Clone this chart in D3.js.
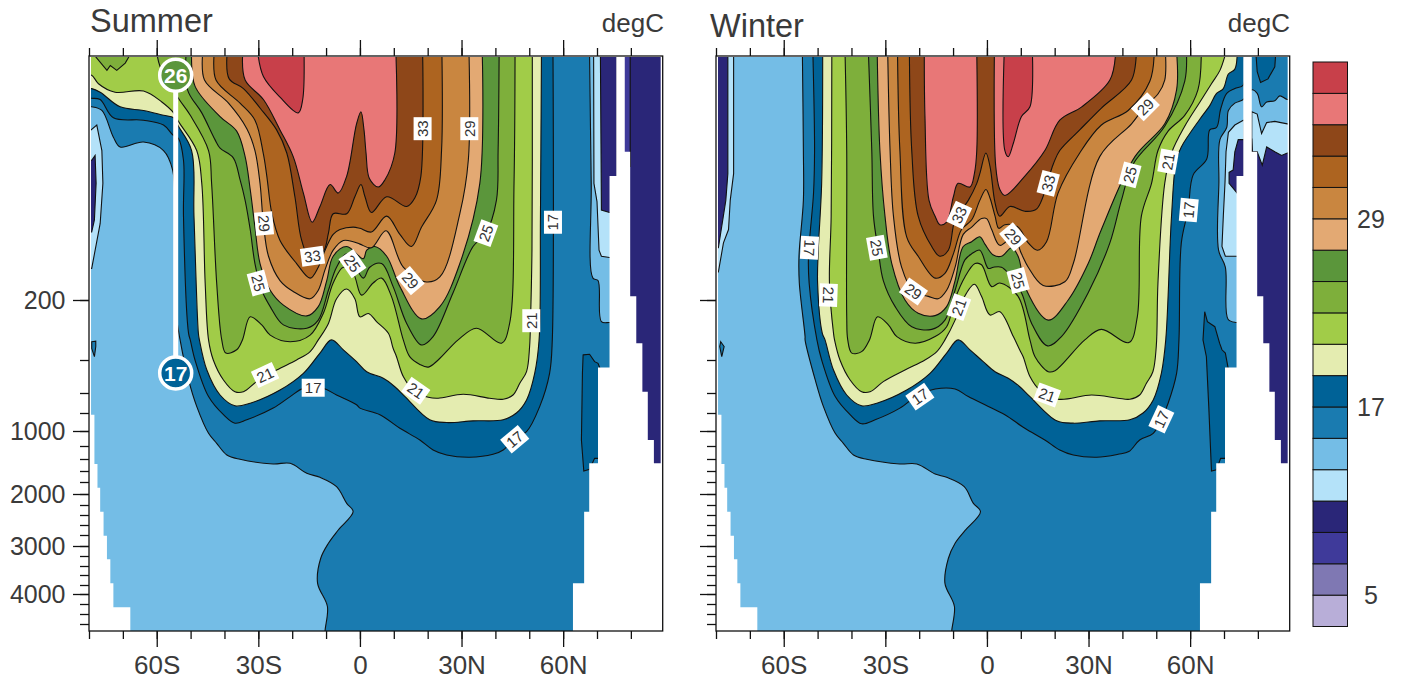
<!doctype html>
<html>
  <head>
    <title>Summer and winter temperature sections</title>
    <script src="https://d3js.org/d3.v7.min.js"></script>
    <style>
    body { margin: 0; background: white; }
    text { font-family: "Liberation Sans", sans-serif; fill: #3a3a3a; }
    .axis path, .axis line { stroke: #111; stroke-width: 1.3px; }
    .axis text { font-size: 25px; font-family: "Liberation Sans", sans-serif; fill: #3a3a3a; }
    .xlabels text { font-size: 26px; }
    .contour { stroke: #111; stroke-width: 1.1px; }
    .clabel text { font-size: 15px; fill: #333; }
    </style>
  </head>
  <body>
    <script>
      // contour levels and the colour of each band, coldest first
      var levels = [5,7,9,11,13,15,17,19,21,23,25,27,29,31,33,35,37];
      var bandColors = ["#b8aed8","#7f78b3","#3f3a9a","#2a2678","#b4e2f9","#74bde6","#1a7bb0","#006297",
                        "#e4ecb0","#a1cc48","#7eaf3b","#5b963b","#e3a973","#c98640","#ad6420","#8e4719",
                        "#e87777","#c8404a"];
      var legendTicks = [5,17,29];

      var latMajor = [-60,-30,0,30,60];
      var latLabels = ["60S","30S","0","30N","60N"];
      var depthMajor = [200,1000,2000,3000,4000];
      var depthStops = [0,200,400,600,800,1000,1200,1400,1600,1800,2000,2200,2400,2600,2800,3000,3200,3400,3600,3800,4000,4200,4400,4600,4735];

      // land, the same in both seasons: [lat, depth]
      var landLeft = [[-82,-20],[-79.4,-20],[-79.4,819],[-78.4,819],[-78.4,1483],[-77.5,1483],[-77.5,1894],[-76.7,1894],[-76.7,2333],[-75.7,2333],[-75.7,2812],[-74.7,2812],[-74.7,3267],[-73.7,3267],[-73.7,3767],[-72.8,3767],[-72.8,4267],[-67.8,4267],[-67.8,4900],[-82,4900]];
      var landRight = [[75.7,-20],[75.7,98],[73.7,98],[73.7,446],[70.3,446],[70.3,1472],[67.7,1472],[67.7,2333],[66.2,2333],[66.2,3767],[62.9,3767],[62.9,4900],[92,4900],[92,-20],[88.8,-20],[88.8,1472],[86.8,1472],[86.8,1121],[85,1121],[85,592],[83.4,592],[83.4,344],[81.6,344],[81.6,197],[79.8,197],[79.8,78],[78.2,78],[78.2,-20]];

      // summer contours, each one the edge of the region warmer than the level
      var s15 = [[-81,41],[-79.2,41],[-76.2,44],[-72.8,66],[-70.8,74],[-63.9,70],[-58,77],[-55.3,93],[-54.6,131],[-54.2,250],[-53.1,333],[-50.6,521],[-48.2,734],[-44.7,1031],[-42.3,1164],[-39.3,1338],[-35.4,1405],[-25.6,1483],[-20.6,1472],[-15.7,1642],[-11.8,1715],[-6.9,1878],[-3.9,2170],[-2,2332],[-6.4,2700],[-9.3,2950],[-11.6,3250],[-12.5,3767],[-9.6,4250],[-10.3,4735],[-10.3,4900],[75,4900],[75,277],[73.7,275],[71.3,272],[70.3,184],[68.8,182],[68.3,104],[67.8,0]];
      var s17 = [[-81,34],[-79.2,34],[-76.7,35],[-72.8,50],[-63.9,52],[-58,56],[-55.3,64],[-53.6,67],[-52.1,85],[-52.1,131],[-50.6,311],[-50.1,333],[-48.7,400],[-44.7,636],[-40.3,819],[-36.9,913],[-33.4,875],[-25.6,751],[-20.6,636],[-16.7,572],[-10.8,572],[-6.9,620],[-1,718],[0,751],[5.9,819],[11.8,970],[17.7,1120],[21.6,1261],[25.6,1338],[32.4,1373],[39.3,1328],[42.3,1261],[45.7,1098],[49.2,1009],[53.1,734],[56,481],[56.8,333],[57,0]];
      var s19 = [[-81,26],[-79.2,26],[-76.7,29],[-70.8,41],[-63.9,44],[-58,48],[-55,50],[-53.6,57],[-49.7,77],[-49,131],[-47.7,311],[-47.4,333],[-45.2,461],[-41.3,620],[-36.9,728],[-32.4,702],[-23.6,582],[-16.7,481],[-11.8,377],[-8.4,333],[-4.9,366],[-1,410],[2,471],[6.9,511],[10.3,562],[13.3,636],[20.6,875],[25.6,906],[33.4,887],[42.3,875],[46.2,800],[49.2,669],[51.6,481],[52.9,333],[53.3,131],[53.6,0]];
      var s21 = [[-81,15],[-79.2,15],[-77.2,22],[-72.3,29],[-63.9,28],[-58.5,37],[-55,46],[-53.6,53],[-48.2,77],[-46.7,104],[-45.7,186],[-44.7,333],[-43.3,400],[-40.3,521],[-36.9,592],[-34.4,592],[-30.5,531],[-24.6,461],[-18.7,400],[-14.7,372],[-12.3,333],[-9.3,278],[-6.9,199],[-3.9,191],[-1.5,199],[0,256],[2.5,245],[4.9,272],[8.4,311],[9.8,361],[10.8,389],[12.8,500],[16.2,591],[20.2,643],[23.1,652],[30.5,613],[38.3,652],[42.3,662],[45.2,620],[47.2,541],[49.2,470],[50.1,355],[50.4,256],[50.8,159],[50.9,0]];
      var s23 = [[-60,0],[-59,8],[-53.6,34],[-50.1,48],[-44.7,77],[-43.8,104],[-42.3,186],[-40.8,333],[-39.6,377],[-36.4,366],[-34.7,333],[-32.4,256],[-29,283],[-26.5,317],[-20.6,339],[-14.7,317],[-10.8,244],[-7.9,186],[-4.9,173],[-2,178],[0.5,196],[3.9,186],[6.4,182],[9.3,197],[12.8,333],[14.7,389],[17.7,427],[20.2,443],[23.1,400],[29,333],[34.4,294],[41.8,344],[44.2,278],[45.5,104],[45.8,0]];
      var s25 = [[-51.3,0],[-50.9,27],[-46.7,46],[-42.8,68],[-41.3,75],[-37.4,83],[-35.4,101],[-33.9,118],[-32.4,142],[-31,170],[-29,192],[-26.5,222],[-22.6,283],[-15.7,294],[-12.3,267],[-9.3,192],[-6.9,173],[-3.9,162],[1,182],[2.9,173],[6.4,170],[9.8,189],[13.8,278],[18.2,350],[21.6,322],[27.5,194],[33.4,156],[37.2,145],[40.3,118],[40.8,77],[41.1,0]];
      var s27 = [[-49.7,0],[-48.7,24],[-41.3,49],[-36.4,61],[-33.9,82],[-32.4,109],[-31,140],[-29.5,170],[-26.5,192],[-22.6,217],[-15.7,253],[-12.3,222],[-9.8,184],[-7.9,164],[-3.9,156],[1,166],[2,159],[4.4,156],[7.9,164],[11.8,189],[18.2,263],[23.6,222],[29.5,170],[35.4,104],[36.1,0]];
      var s29 = [[-46.4,0],[-45.9,19],[-38.8,38],[-33.4,59],[-31,77],[-29.5,104],[-28.5,137],[-27,164],[-23.6,184],[-19.7,193],[-14.7,199],[-12.3,192],[-10.3,175],[-7.9,159],[-4.9,151],[-2,152],[0,154],[3.4,157],[7.7,143],[12.8,173],[19.2,185],[23.6,181],[29.5,129],[32,85],[32.2,0]];
      var s31 = [[-43,0],[-42.5,19],[-35.4,38],[-31,52],[-28.5,80],[-27.5,98],[-26,129],[-23.6,151],[-18.7,170],[-14.7,182],[-12.3,173],[-10.3,159],[-7.9,146],[-5.9,142],[-2,140],[0,141],[3.4,144],[7.9,131],[11.8,146],[15.2,156],[18.2,140],[22.6,118],[24.1,77],[24.2,0]];
      var s33 = [[-39.2,0],[-38.6,18],[-34.4,26],[-29.5,42],[-24.6,60],[-21.6,79],[-19.2,115],[-17.2,151],[-14.7,166],[-10.8,160],[-9.3,145],[-7.9,129],[-3.9,129],[-1.5,115],[0.3,105],[1.5,115],[3.4,128],[7.9,115],[13.8,123],[16.2,116],[18,98],[18.5,0]];
      var s35 = [[-34.6,0],[-33.9,19],[-28.5,35],[-23.6,60],[-19.7,82],[-16.7,112],[-14.1,136],[-11.8,123],[-8.8,105],[-6.4,112],[-3.9,98],[-1,55],[0.3,45],[1.2,60],[1.8,79],[2.8,100],[5.4,107],[7.4,101],[10.3,79],[10.6,0]];
      var s37 = [[-30.2,0],[-28.5,16],[-23.6,33],[-18.2,46],[-16.9,35],[-16.5,0]];

      // summer cold pools and small closed patches: [level, points]
      var summerCold = [
        [11,[[-81,60],[-79.4,60],[-77.7,56],[-76.2,77],[-75.9,104],[-76.7,137],[-79.2,174],[-81,174]]],
        [9,[[-81,85],[-79.2,85],[-78.2,81],[-77.9,104],[-78.4,134],[-79.2,144],[-81,144]]],
        [11,[[69,0],[69.1,104],[70,119],[70.6,159],[71.3,164],[73.7,165],[76,165],[76,0]]],
        [9,[[71,0],[71.3,126],[73.7,128],[76,128],[76,0]]],
        [9,[[76,0],[92,0],[92,4900],[76,4900]]],
        [7,[[77,0],[79.8,0],[79.8,90],[77,90]]]
      ];
      var summerPatches = [
        [23,[[-79.2,0],[-74.7,11],[-73.7,7],[-71.8,11],[-69.3,5],[-67.4,0]]],
        [15,[[-79.2,339],[-78,337],[-78,355],[-78.4,389],[-79.2,361]]],
        [17,[[65.9,383],[67.8,381],[69.3,410],[70.3,420],[70.8,446],[72,800],[71,1390],[69.3,1390],[67.8,1570],[66.1,1600],[65.4,1120],[65.7,481]]]
      ];

      // winter contours
      var w15 = [[-54.5,0],[-54.2,77],[-54.2,118],[-55.5,164],[-55.4,186],[-53.7,322],[-53.7,333],[-50.7,521],[-48.3,734],[-44.8,1031],[-42.4,1164],[-39.4,1338],[-35.5,1405],[-25.7,1483],[-20.7,1483],[-15.3,1655],[-11.9,1715],[-6.7,1878],[-4,2170],[-1.9,2332],[-6.5,2713],[-9.4,2950],[-11.4,3250],[-12.4,3767],[-9.6,4250],[-10.4,4735],[-10.4,4900],[75,4900],[75,275],[73.6,275],[71.2,264],[70.4,173],[68.4,159],[68.5,103],[68.8,68],[70.8,58],[71.3,44],[73.2,38],[75.7,35],[78.2,27],[79.8,30],[81.1,41],[82.6,37],[85,36],[86.5,32],[88.7,35],[92,35],[92,0]];
      var w17 = [[-51.4,0],[-50.9,77],[-51.2,112],[-52.7,164],[-52.5,186],[-50.2,333],[-48.8,400],[-44.8,636],[-40.4,819],[-37,920],[-33,875],[-25.7,751],[-20.3,620],[-15.3,576],[-9.4,576],[-5.5,636],[0.4,734],[5.3,819],[11.2,970],[17.1,1120],[21.5,1261],[25.5,1338],[32.4,1373],[38.7,1328],[41.9,1286],[45.1,1120],[49.1,1031],[51.5,870],[53.5,702],[56,481],[56.7,333],[57.4,153],[59.4,126],[60.9,97],[64.9,84],[65.8,60],[67.8,58],[69,43],[70.8,30],[73.2,26],[75.7,23],[75.8,0]];
      var w19 = [[-48.5,0],[-48.8,104],[-49.8,159],[-50,186],[-48.6,311],[-47.8,333],[-45.3,461],[-41.4,620],[-37,728],[-32.5,702],[-23.7,582],[-16.8,481],[-11.9,377],[-8.5,333],[-5,366],[-1.1,410],[2.4,471],[6.3,511],[9.7,562],[12.7,636],[20.6,887],[25.5,913],[33.3,887],[42.2,875],[46.1,800],[49.1,669],[51.5,481],[52.8,333],[54.5,131],[55.9,85],[57.4,74],[62.9,51],[65.8,40],[67.8,30],[69.8,26],[71.3,14],[73.2,10],[73.9,0]];
      var w21 = [[-45.8,0],[-46,131],[-46.5,186],[-45.3,311],[-45,333],[-43.4,400],[-40.4,521],[-37,592],[-34.5,592],[-30.6,531],[-24.2,461],[-18.3,400],[-14.8,372],[-12.4,333],[-9.4,267],[-7,199],[-3.7,187],[-1.6,197],[0.9,250],[3.8,239],[7.8,322],[9.7,367],[10.7,389],[12.7,500],[15.6,582],[21,662],[30.9,620],[38.7,652],[42.2,662],[45.1,620],[47.1,541],[49,471],[50,355],[50.5,186],[52.5,104],[54.5,79],[58.4,57],[62.9,37],[66.3,22],[68.8,11],[70.6,0]];
      var w23 = [[-41.9,0],[-41.4,77],[-41.4,256],[-41.1,333],[-39.9,377],[-37,372],[-34.7,333],[-32.3,256],[-29.1,283],[-26.6,322],[-21.2,344],[-15.3,322],[-11.9,289],[-9.4,199],[-6.5,181],[-3.5,170],[-1.6,171],[1.4,189],[3.8,186],[9.2,197],[12.7,333],[14.2,389],[18.1,471],[20.1,465],[28.9,333],[33.8,298],[41.9,342],[44.4,256],[45.6,131],[48.6,104],[50.5,77],[53.5,61],[58.4,48],[62.3,27],[63.3,0]];
      var w25 = [[-35,0],[-34,77],[-33.5,131],[-32.1,159],[-30.6,184],[-27.1,222],[-22.2,289],[-16.3,298],[-12.4,267],[-9.4,192],[-6.5,167],[-4.5,162],[-2.1,159],[0.4,174],[1.9,173],[4.3,173],[6.3,178],[10.2,194],[13.2,278],[17.9,353],[22,322],[29.9,194],[36.3,153],[39.7,118],[43.2,88],[52.5,57],[58.4,20],[58.9,0]];
      var w27 = [[-32.4,0],[-31.6,77],[-30.1,131],[-28.1,170],[-24.2,200],[-20.3,244],[-15.3,252],[-11.9,222],[-9.4,184],[-7,156],[-4.5,152],[-2.1,148],[-0.6,154],[1.9,163],[4.3,164],[7.3,157],[9.2,164],[11.7,192],[18.1,267],[24,200],[29.9,170],[33.8,142],[43.7,82],[52.5,55],[56,27],[56,0]];
      var w29 = [[-29.3,0],[-28.6,77],[-27.6,131],[-25.2,173],[-21.7,193],[-17.3,197],[-14.4,199],[-11.9,192],[-9.4,173],[-7,146],[-4.5,140],[-1.6,133],[-0.1,133],[1.4,142],[3.8,155],[7.8,148],[10.2,162],[12.2,173],[16.6,188],[23,185],[25.5,170],[33.3,82],[42.7,55],[46.6,41],[50.6,30],[52.5,19],[52.7,0]];
      var w31 = [[-26.4,0],[-25.7,77],[-23.7,148],[-20.3,164],[-15.3,182],[-12.4,178],[-9.9,162],[-7.5,142],[-4.5,134],[-2.1,118],[-0.3,109],[0.9,116],[2.4,131],[3.5,141],[5.3,138],[9.2,140],[12.2,153],[14.9,159],[17.6,152],[21,112],[27.4,79],[33.8,56],[41.7,44],[48.1,20],[49.4,0]];
      var w33 = [[-22.9,0],[-22.2,77],[-20.3,131],[-16.3,156],[-13.9,164],[-11.4,159],[-9.4,134],[-5.5,118],[-3,104],[-2.1,96],[-0.3,79],[0.9,90],[2.4,120],[3.8,131],[6.8,123],[11.2,127],[14.7,125],[19.6,88],[21.5,77],[27.4,60],[33.8,42],[42.7,19],[44.1,0]];
      var w35a = [[-18.5,0],[-18.3,49],[-17.1,118],[-15.3,131],[-13.9,138],[-11.9,136],[-9.9,115],[-8.5,104],[-5,107],[-3.7,96],[-3,77],[-3,0]];
      var w35b = [[2.2,0],[2.6,90],[3.8,109],[5.3,114],[11.2,98],[17.1,77],[21.5,52],[28,41],[36.3,19],[38,0]];
      var w37 = [[5.1,0],[5.3,77],[6.3,82],[7.8,71],[10.2,49],[12.7,41],[13.4,0]];

      // winter cold pools and small closed patches
      var winterCold = [
        [11,[[-74.8,0],[-74.8,96],[-75.8,118],[-76.3,142],[-77.8,153],[-79.3,177],[-81,177],[-81,0]]],
        [9,[[-76.5,0],[-76.5,96],[-77.1,118],[-79.3,157],[-81,157],[-81,0]]],
        [11,[[75.7,52],[73.2,56],[71.3,62],[70.6,78],[70.3,103],[69.8,131],[69.4,156],[70.4,164],[73.6,164],[76,164],[76,52]]],
        [9,[[75.7,68],[74.2,68],[73.2,78],[72.7,93],[71.5,95],[71.5,104],[73.9,112],[76,112],[76,68]]],
        [11,[[78.2,45],[79.8,47],[81.1,63],[82.6,54],[85,53],[86.8,54],[88.7,55],[92,55],[92,4900],[78.1,4900]]],
        [9,[[78.2,67],[78.4,78],[79.8,78],[81.3,89],[82.6,74],[85,78],[87,81],[88.7,79],[92,79],[92,4900],[78.1,4900]]]
      ];
      var winterPatches = [
        [15,[[-78.6,339],[-77.6,355],[-78.3,389],[-78.9,355]]],
        [17,[[64.3,239],[65.1,272],[67.3,289],[68.7,344],[69.4,366],[70.4,377],[71.2,446],[72.2,734],[70.4,1390],[69,1390],[67.8,1580],[66.3,1600],[65.5,734],[64.8,389],[63.8,333]]],
        [17,[[79.4,0],[79.8,12],[80.8,21],[83,18],[85,8],[85.3,0]]]
      ];

      var summerLevels = [[15,s15],[17,s17],[19,s19],[21,s21],[23,s23],[25,s25],[27,s27],[29,s29],[31,s31],[33,s33],[35,s35],[37,s37]];
      var winterLevels = [[15,w15],[17,w17],[19,w19],[21,w21],[23,w23],[25,w25],[27,w27],[29,w29],[31,w31],[33,w33],[35,w35a],[35,w35b],[37,w37]];

      // line labels: [lat, depth, level, angle along the line]
      var summerLabels = [[18.5,59,33,-90],[32.3,59,29,-90],[57,136,17,-90],[37.2,145,25,-70],[50.6,269,21,-90],[14.9,184,29,50],
                          [-28.3,137,29,85],[-30,186,25,75],[-14,164,33,-8],[-2.2,170,25,55],[-28,491,21,-25],[-13.8,568,17,0],
                          [16.5,586,21,35],[45.7,1111,17,-40]];
      var winterLabels = [[-52.4,157,17,93],[-46.8,196,21,92],[-32.5,157,25,80],[-8.2,130,33,-65],[-21.7,193,29,35],[-8.3,224,21,-70],
                          [18.1,104,33,-75],[7.8,148,29,50],[9.2,184,25,75],[42.2,97,25,-75],[46.8,41,29,-45],[53.5,86,21,-80],
                          [59.6,126,17,-85],[-19.8,636,17,-35],[17.8,620,21,20],[51.5,870,17,-65]];

      // the two marked values on the summer panel
      var markerLat = -54.4;
      var markerDepths = [15,479];
      var markerValues = [26,17];

      var svg = d3.select("body").append("svg").attr("width",1402).attr("height",683);

      var color = d3.scaleThreshold().domain(levels).range(bandColors);

      var top_y = 57, bottom_y = 631;
      var y = d3.scaleLinear().domain(depthStops)
                .range([top_y,300,360,393,413,431,446,459,471,482,494,505,515,525,535,546,556,566,575,585,594,604,614,624,bottom_y]);

      function yOf(d) { return d <= 0 ? top_y - 5 : y(d); }

      function drawPanel(id, x0, x1, levelRings, coldPatches, warmPatches, labels) {
        var x = d3.scaleLinear().domain([-80,89.4]).range([x0,x1]);

        svg.append("clipPath").attr("id","clip"+id).append("rect")
           .attr("x",x0).attr("y",top_y).attr("width",x1-x0).attr("height",bottom_y-top_y);

        var plot = svg.append("g").attr("clip-path","url(#clip"+id+")");

        plot.append("rect").attr("x",x0).attr("y",top_y).attr("width",x1-x0).attr("height",bottom_y-top_y)
            .attr("fill",color(13));

        var straight = d3.line().x(function(d){return x(d[0]);}).y(function(d){return yOf(d[1]);});
        var smooth = d3.line().x(function(d){return x(d[0]);}).y(function(d){return yOf(d[1]);})
                       .curve(d3.curveCatmullRom.alpha(0.5));

        function addPatches(list) {
          plot.selectAll(null).data(list).enter().append("path")
              .attr("class","contour")
              .attr("d",function(d){return straight(d[1])+"Z";})
              .attr("fill",function(d){return color(d[0]);});
        }

        addPatches(coldPatches);

        // every region is closed above the top of the plot
        plot.selectAll(null).data(levelRings).enter().append("path")
            .attr("class","contour")
            .attr("d",function(d){
              var pts = d[1];
              return smooth(pts)+"L"+x(pts[pts.length-1][0])+","+(top_y-5)+"L"+x(pts[0][0])+","+(top_y-5)+"Z";
            })
            .attr("fill",function(d){return color(d[0]);});

        addPatches(warmPatches);

        plot.selectAll(null).data([landLeft,landRight]).enter().append("path")
            .attr("d",function(d){return straight(d)+"Z";})
            .attr("fill","white");

        // frame
        svg.append("rect").attr("x",x0).attr("y",top_y-1).attr("width",x1-x0).attr("height",bottom_y-top_y+1)
           .attr("fill","none").attr("stroke","#111").attr("stroke-width",1.3);

        // axes
        var minorLat = d3.range(-80,90,10);
        svg.append("g").attr("class","axis").attr("transform","translate(0,"+bottom_y+")")
           .call(d3.axisBottom(x).tickValues(minorLat).tickSize(8).tickFormat(""))
           .call(function(g){g.select(".domain").remove();});
        svg.append("g").attr("class","axis xlabels").attr("transform","translate(0,"+bottom_y+")")
           .call(d3.axisBottom(x).tickValues(latMajor).tickSize(16).tickPadding(9)
                   .tickFormat(function(d,i){return latLabels[i];}))
           .call(function(g){g.select(".domain").remove();});
        svg.append("g").attr("class","axis").attr("transform","translate(0,"+(top_y-1)+")")
           .call(d3.axisTop(x).tickValues(minorLat).tickSize(8).tickFormat(""))
           .call(function(g){g.select(".domain").remove();});
        svg.append("g").attr("class","axis").attr("transform","translate(0,"+(top_y-1)+")")
           .call(d3.axisTop(x).tickValues(latMajor).tickSize(16).tickFormat(""))
           .call(function(g){g.select(".domain").remove();});

        var minorDepth = d3.range(200,4601,200);
        svg.append("g").attr("class","axis").attr("transform","translate("+x0+",0)")
           .call(d3.axisLeft(y).tickValues(minorDepth).tickSize(9).tickFormat(""))
           .call(function(g){g.select(".domain").remove();});
        svg.append("g").attr("class","axis").attr("transform","translate("+x0+",0)")
           .call(d3.axisLeft(y).tickValues(depthMajor).tickSize(16).tickPadding(7.5)
                   .tickFormat(id == "summer" ? d3.format("d") : ""))
           .call(function(g){g.select(".domain").remove();});

        return {x:x, labels:labels};
      }

      function drawLabels(panel) {
        var g = svg.selectAll(null).data(panel.labels).enter().append("g")
                   .attr("class","clabel")
                   .attr("transform",function(d){
                     return "translate("+panel.x(d[0])+","+y(d[1])+") rotate("+d[3]+")";
                   });
        g.append("rect").attr("x",-11.5).attr("y",-9).attr("width",23).attr("height",18).attr("fill","white");
        g.append("text").attr("text-anchor","middle").attr("dy","0.36em").text(function(d){return d[2];});
      }

      var summer = drawPanel("summer",89,662.7,summerLevels,summerCold,summerPatches,summerLabels);
      var winter = drawPanel("winter",716,1289.7,winterLevels,winterCold,winterPatches,winterLabels);

      // white marker line with the two values
      var mx = summer.x(markerLat);
      svg.append("line").attr("x1",mx).attr("x2",mx)
         .attr("y1",y(markerDepths[0])).attr("y2",y(markerDepths[1]))
         .attr("stroke","white").attr("stroke-width",5);
      var marks = svg.selectAll(null).data(markerValues).enter().append("g")
                     .attr("transform",function(d,i){return "translate("+mx+","+y(markerDepths[i])+")";});
      marks.append("circle").attr("r",16).attr("stroke","white").attr("stroke-width",3.5)
           .attr("fill",function(d){return color(d);});
      marks.append("text").attr("text-anchor","middle").attr("dy","0.36em")
           .style("font-size","21px").style("font-weight","bold").style("fill","white")
           .text(function(d){return d;});

      drawLabels(summer);
      drawLabels(winter);

      // titles
      svg.append("text").attr("x",90).attr("y",32).style("font-size","32.5px").text("Summer");
      svg.append("text").attr("x",710).attr("y",37).style("font-size","32.5px").text("Winter");
      svg.append("text").attr("x",664).attr("y",32).attr("text-anchor","end").style("font-size","26px").text("degC");
      svg.append("text").attr("x",1290).attr("y",32).attr("text-anchor","end").style("font-size","26px").text("degC");

      // colour bar
      var legendY = d3.scaleLinear().domain([3,39]).range([626.5,62]);
      var legendBands = [3].concat(levels);
      svg.selectAll(null).data(legendBands).enter().append("rect")
         .attr("x",1313).attr("width",34.5)
         .attr("y",function(d){return legendY(d+2);})
         .attr("height",function(d){return legendY(d)-legendY(d+2);})
         .attr("fill",function(d){return color(d);})
         .attr("stroke","#111").attr("stroke-width",1);
      svg.selectAll(null).data(legendTicks).enter().append("text")
         .attr("x",1371).attr("y",function(d){return legendY(d);})
         .attr("text-anchor","middle").attr("dy","0.36em").style("font-size","25px")
         .text(function(d){return d;});
    </script>
  </body>
</html>
